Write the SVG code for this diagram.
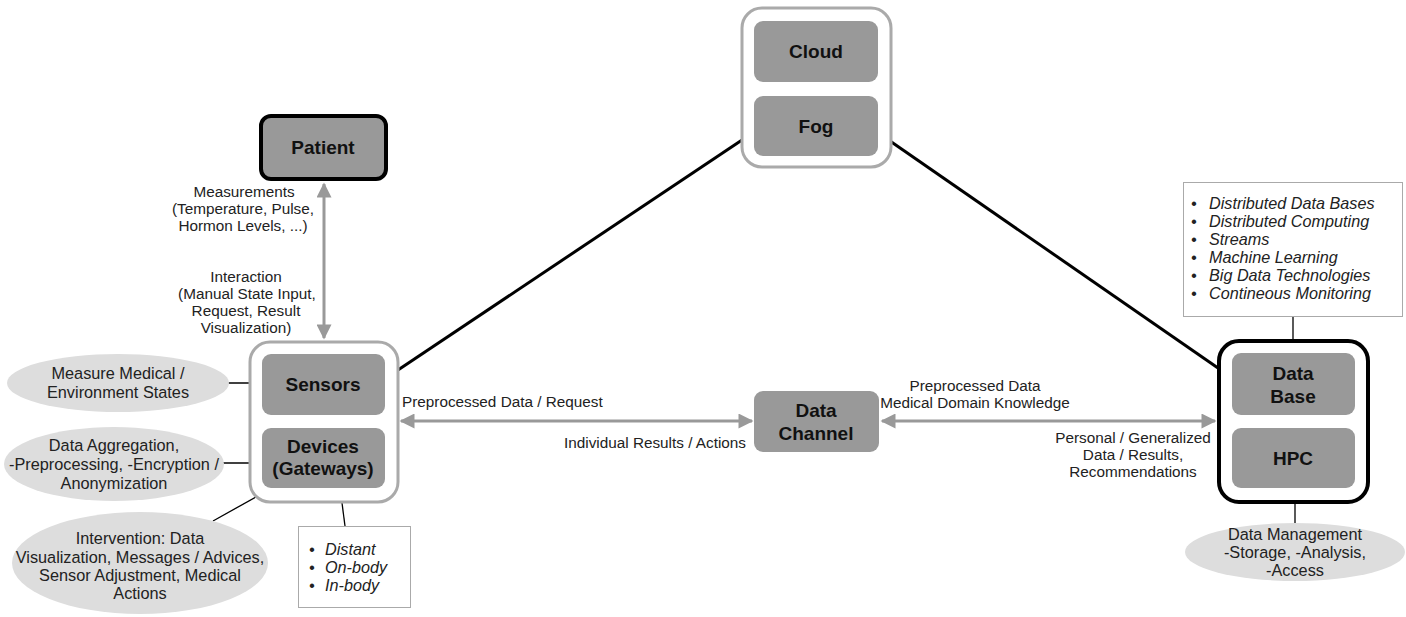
<svg xmlns="http://www.w3.org/2000/svg" width="1406" height="617" viewBox="0 0 1406 617">
<defs>
<style>
.cont{fill:#fff;stroke:#aaa;stroke-width:3}
.thick{fill:#fff;stroke:#000;stroke-width:4}
.inner{fill:#999;stroke:none}
.lbl{font-family:"Liberation Sans",Arial,sans-serif;font-weight:bold;font-size:19px;fill:#111;text-anchor:middle}
.t{font-family:"Liberation Sans",Arial,sans-serif;font-size:15.3px;fill:#222}
.e{font-family:"Liberation Sans",Arial,sans-serif;font-size:16.3px;fill:#222;text-anchor:middle}
.tc{text-anchor:middle}
.it{font-family:"Liberation Sans",Arial,sans-serif;font-size:16.2px;font-style:italic;fill:#222}
.ell{fill:#ddd;stroke:none}
.box{fill:#fff;stroke:#aaa;stroke-width:1}
.blk{stroke:#000;stroke-width:3;fill:none}
.thin{stroke:#000;stroke-width:1.3;fill:none}
.garr{stroke:#999;stroke-width:3;fill:none}
</style>
<marker id="ah" viewBox="0 0 10 10" refX="9" refY="5" markerWidth="6" markerHeight="5" orient="auto-start-reverse" markerUnits="strokeWidth"><path d="M0,0 L10,5 L0,10 z" fill="#999"/></marker>
</defs>
<rect width="1406" height="617" fill="#fff"/>
<g id="connectors">
<line class="blk" x1="398" y1="370" x2="742" y2="140"/>
<line class="blk" x1="890" y1="141" x2="1218" y2="368"/>
<line class="garr" x1="324" y1="184" x2="324" y2="338" marker-start="url(#ah)" marker-end="url(#ah)"/>
<line class="garr" x1="401" y1="421" x2="752" y2="421" marker-start="url(#ah)" marker-end="url(#ah)"/>
<line class="garr" x1="882" y1="421" x2="1215" y2="421" marker-start="url(#ah)" marker-end="url(#ah)"/>
<line class="thin" x1="228" y1="383" x2="262" y2="383"/>
<line class="thin" x1="222" y1="463" x2="262" y2="463"/>
<line class="thin" x1="213" y1="521" x2="272" y2="488"/>
<line class="thin" x1="342" y1="503" x2="345" y2="526"/>
<line class="thin" x1="1293" y1="317" x2="1293" y2="340"/>
<line class="thin" x1="1295" y1="503" x2="1295" y2="523"/>
<text class="t tc" x="244" y="197">Measurements</text>
<text class="t tc" x="243" y="214">(Temperature, Pulse,</text>
<text class="t tc" x="243" y="231">Hormon Levels, ...)</text>
<text class="t tc" x="246" y="282">Interaction</text>
<text class="t tc" x="247" y="299">(Manual State Input,</text>
<text class="t tc" x="246" y="316">Request, Result</text>
<text class="t tc" x="246" y="333">Visualization)</text>
<text class="t" x="402" y="407">Preprocessed Data / Request</text>
<text class="t" x="746" y="448" text-anchor="end">Individual Results / Actions</text>
<text class="t tc" x="975" y="391">Preprocessed Data</text>
<text class="t tc" x="975" y="408">Medical Domain Knowledge</text>
<text class="t tc" x="1133" y="443">Personal / Generalized</text>
<text class="t tc" x="1133" y="460">Data / Results,</text>
<text class="t tc" x="1133" y="477">Recommendations</text>
</g>
<g id="cloudfog">
<rect class="cont" x="742" y="8" width="149" height="159" rx="20"/>
<rect class="inner" x="754" y="21" width="124" height="61" rx="9"/>
<text class="lbl" x="816" y="58">Cloud</text>
<rect class="inner" x="754" y="96" width="124" height="60" rx="9"/>
<text class="lbl" x="816" y="133">Fog</text>
</g>
<g id="patient">
<rect x="261" y="116" width="125" height="63" rx="10" fill="#999" stroke="#000" stroke-width="4"/>
<text class="lbl" x="323" y="154">Patient</text>
</g>
<g id="sensors-devices">
<rect class="cont" x="250" y="342" width="148" height="160" rx="20"/>
<rect class="inner" x="262" y="354" width="123" height="61" rx="9"/>
<text class="lbl" x="323" y="391">Sensors</text>
<rect class="inner" x="262" y="428" width="123" height="60" rx="9"/>
<text class="lbl" x="323" y="453">Devices</text>
<text class="lbl" x="323" y="475">(Gateways)</text>
</g>
<g id="datachannel">
<rect class="inner" x="754" y="391" width="125" height="61" rx="9"/>
<text class="lbl" x="816" y="417">Data</text>
<text class="lbl" x="816" y="440">Channel</text>
</g>
<g id="database-hpc">
<rect class="thick" x="1219" y="341" width="149" height="161" rx="20"/>
<rect class="inner" x="1232" y="353" width="123" height="62" rx="9"/>
<text class="lbl" x="1293" y="380">Data</text>
<text class="lbl" x="1293" y="403">Base</text>
<rect class="inner" x="1232" y="428" width="123" height="60" rx="9"/>
<text class="lbl" x="1293" y="465">HPC</text>
</g>
<g id="ell-measure">
<ellipse class="ell" cx="118" cy="383" rx="111" ry="29"/>
<text class="e" x="118" y="379">Measure Medical /</text>
<text class="e" x="118" y="398">Environment States</text>
</g>
<g id="ell-aggregation">
<ellipse class="ell" cx="114" cy="464" rx="110" ry="37"/>
<text class="e" x="114" y="451">Data Aggregation,</text>
<text class="e" x="114" y="470">-Preprocessing, -Encryption /</text>
<text class="e" x="114" y="489">Anonymization</text>
</g>
<g id="ell-intervention">
<ellipse class="ell" cx="140" cy="563" rx="128" ry="51"/>
<text class="e" x="140" y="544">Intervention: Data</text>
<text class="e" x="140" y="563">Visualization, Messages / Advices,</text>
<text class="e" x="140" y="581">Sensor Adjustment, Medical</text>
<text class="e" x="140" y="599">Actions</text>
</g>
<g id="box-location">
<rect class="box" x="298.500" y="526.500" width="112" height="81"/>
<text class="it" x="309" y="555">•</text><text class="it" x="325" y="555">Distant</text>
<text class="it" x="309" y="573">•</text><text class="it" x="325" y="573">On-body</text>
<text class="it" x="309" y="591">•</text><text class="it" x="325" y="591">In-body</text>
</g>
<g id="box-tech">
<rect class="box" x="1183.500" y="182.500" width="219" height="134"/>
<text class="it" x="1191" y="209">•</text><text class="it" x="1209" y="209">Distributed Data Bases</text>
<text class="it" x="1191" y="227">•</text><text class="it" x="1209" y="227">Distributed Computing</text>
<text class="it" x="1191" y="245">•</text><text class="it" x="1209" y="245">Streams</text>
<text class="it" x="1191" y="263">•</text><text class="it" x="1209" y="263">Machine Learning</text>
<text class="it" x="1191" y="281">•</text><text class="it" x="1209" y="281">Big Data Technologies</text>
<text class="it" x="1191" y="299">•</text><text class="it" x="1209" y="299">Contineous Monitoring</text>
</g>
<g id="ell-datamgmt">
<ellipse class="ell" cx="1295" cy="552" rx="110" ry="29"/>
<text class="e" x="1295" y="540">Data Management</text>
<text class="e" x="1295" y="558">-Storage, -Analysis,</text>
<text class="e" x="1295" y="576">-Access</text>
</g>
</svg>
